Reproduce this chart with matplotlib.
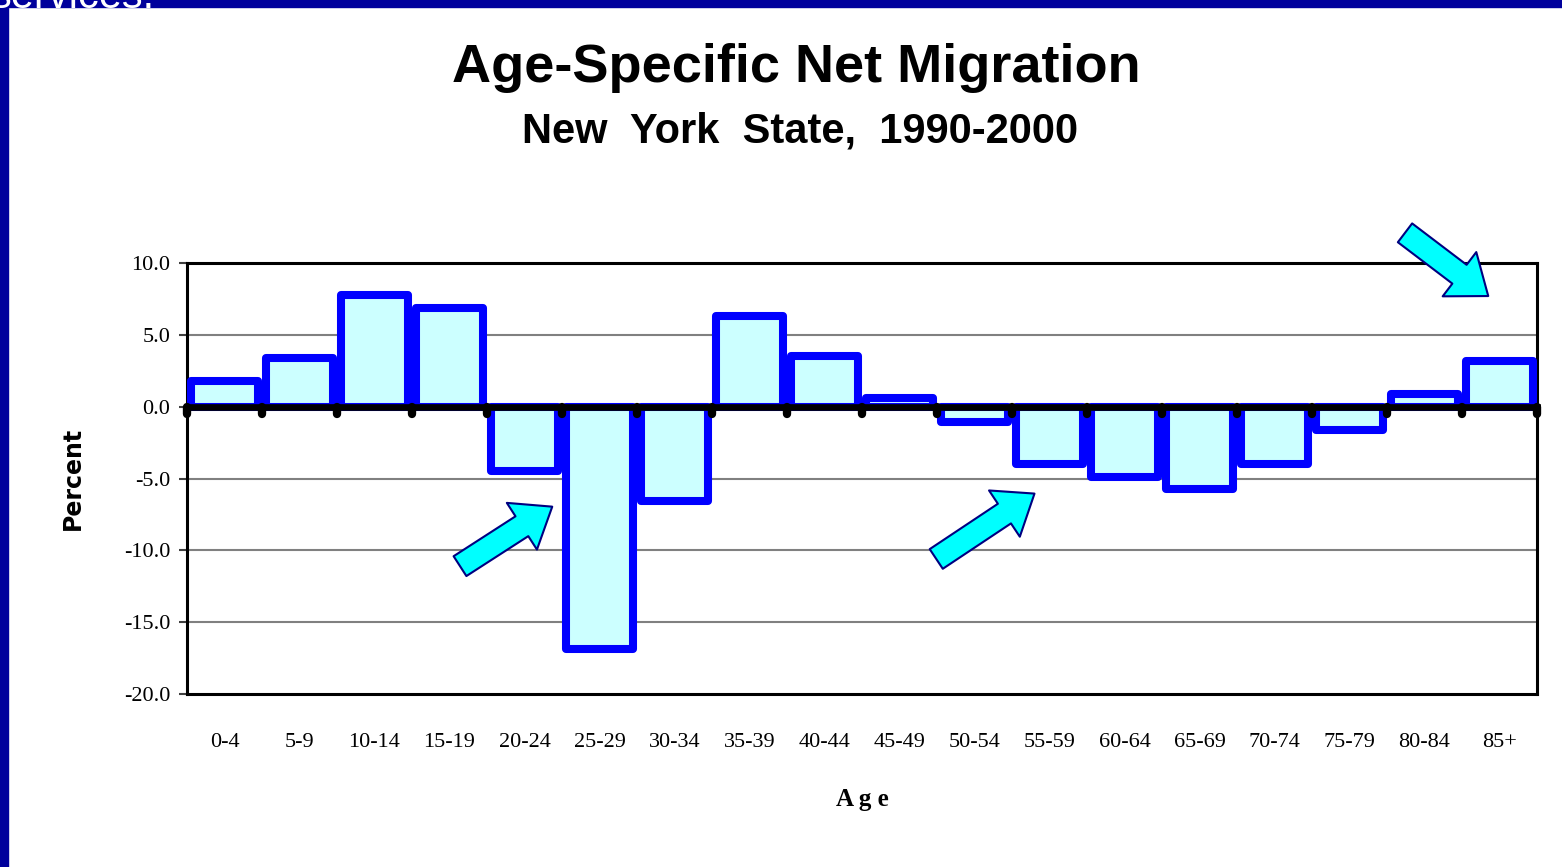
import matplotlib
matplotlib.use("Agg")
import matplotlib.pyplot as plt
from matplotlib.patches import Rectangle

# --- data ---
AGE_GROUPS = ["0-4", "5-9", "10-14", "15-19", "20-24", "25-29", "30-34", "35-39",
              "40-44", "45-49", "50-54", "55-59", "60-64", "65-69", "70-74",
              "75-79", "80-84", "85+"]
NET_MIGRATION = [1.8, 3.4, 7.8, 6.9, -4.5, -16.9, -6.6, 6.3, 3.5, 0.6,
                 -1.1, -4.0, -4.9, -5.7, -4.0, -1.6, 0.9, 3.2]
Y_TICKS = [10, 5, 0, -5, -10, -15, -20]
# annotation arrows: (tail x, tail y, head x, head y) in data units
ARROWS = [(3.14, -11.1, 4.37, -6.96),
          (9.49, -10.6, 10.80, -6.05),
          (15.74, 12.1, 16.85, 7.7)]

SERIF = ["Liberation Serif", "DejaVu Serif"]
SANS = ["Liberation Sans", "DejaVu Sans"]

fig = plt.figure(figsize=(15.62, 8.67), dpi=100)
fig.patch.set_facecolor("white")

# slide frame: dark blue strips on top and left, with the cut-off caption
fig.add_artist(Rectangle((0, 1 - 7 / 867), 1, 7 / 867, transform=fig.transFigure,
                         color="#00009C", zorder=0))
fig.add_artist(Rectangle((0, 0), 8 / 1562, 1, transform=fig.transFigure,
                         color="#00009C", zorder=0))
fig.text(-0.006, 1 - 8 / 867, "services.", color="white", fontsize=30,
         family=SANS, va="baseline", ha="left", zorder=1)

fig.text(0.51, 0.922, "Age-Specific Net Migration", ha="center", va="center",
         fontsize=39, fontweight="bold", family=SANS)
fig.text(0.512, 0.848, "New  York  State,  1990-2000", ha="center", va="center",
         fontsize=30, fontweight="bold", family=SANS)

ax = fig.add_axes([187 / 1562, 173 / 867, 1350 / 1562, 431 / 867])
x = list(range(len(AGE_GROUPS)))

ax.bar(x, NET_MIGRATION, width=0.9, color="#CCFFFF", edgecolor="#0000FF",
       linewidth=5.8, joinstyle="round", zorder=3)

ax.set_xlim(-0.5, len(AGE_GROUPS) - 0.5)
ax.set_ylim(-20, 10)
ax.set_yticks(Y_TICKS)
ax.set_yticklabels([f"{v:.1f}" for v in Y_TICKS], family=SERIF, fontsize=16)
ax.set_xticks(x)
ax.set_xticklabels(AGE_GROUPS, family=SERIF, fontsize=16)
ax.tick_params(axis="x", length=0, pad=28)
ax.tick_params(axis="y", length=6, width=1.5, color="#404040", pad=6)

for v in Y_TICKS[1:-1]:
    if v != 0:
        ax.axhline(v, color="#808080", lw=1.5, zorder=1)

# thick zero line with little rounded category ticks hanging below
bounds = [i - 0.5 for i in range(len(AGE_GROUPS) + 1)]
ax.vlines(bounds, 0, -0.5, colors="black", lw=6, capstyle="round", zorder=5,
          clip_on=False)
ax.axhline(0, color="black", lw=4.8, zorder=6, clip_on=False)

for s in ax.spines.values():
    s.set_linewidth(2.2)
    s.set_color("black")

ax.set_xlabel("A g e", family=SERIF, fontsize=18, fontweight="bold", labelpad=26)
ax.set_ylabel("Percent", family=["DejaVu Sans"], fontsize=17, fontweight="bold",
              labelpad=28)

for tx, ty, hx, hy in ARROWS:
    ax.annotate("", xy=(hx, hy), xytext=(tx, ty), xycoords="data",
                annotation_clip=False, zorder=8,
                arrowprops=dict(arrowstyle="simple,head_length=2.6,head_width=4.0,tail_width=1.7",
                                mutation_scale=10, fc="#00FFFF", ec="#000080", lw=1.5,
                                shrinkA=0, shrinkB=0))

fig.savefig("out.png", dpi=100)
